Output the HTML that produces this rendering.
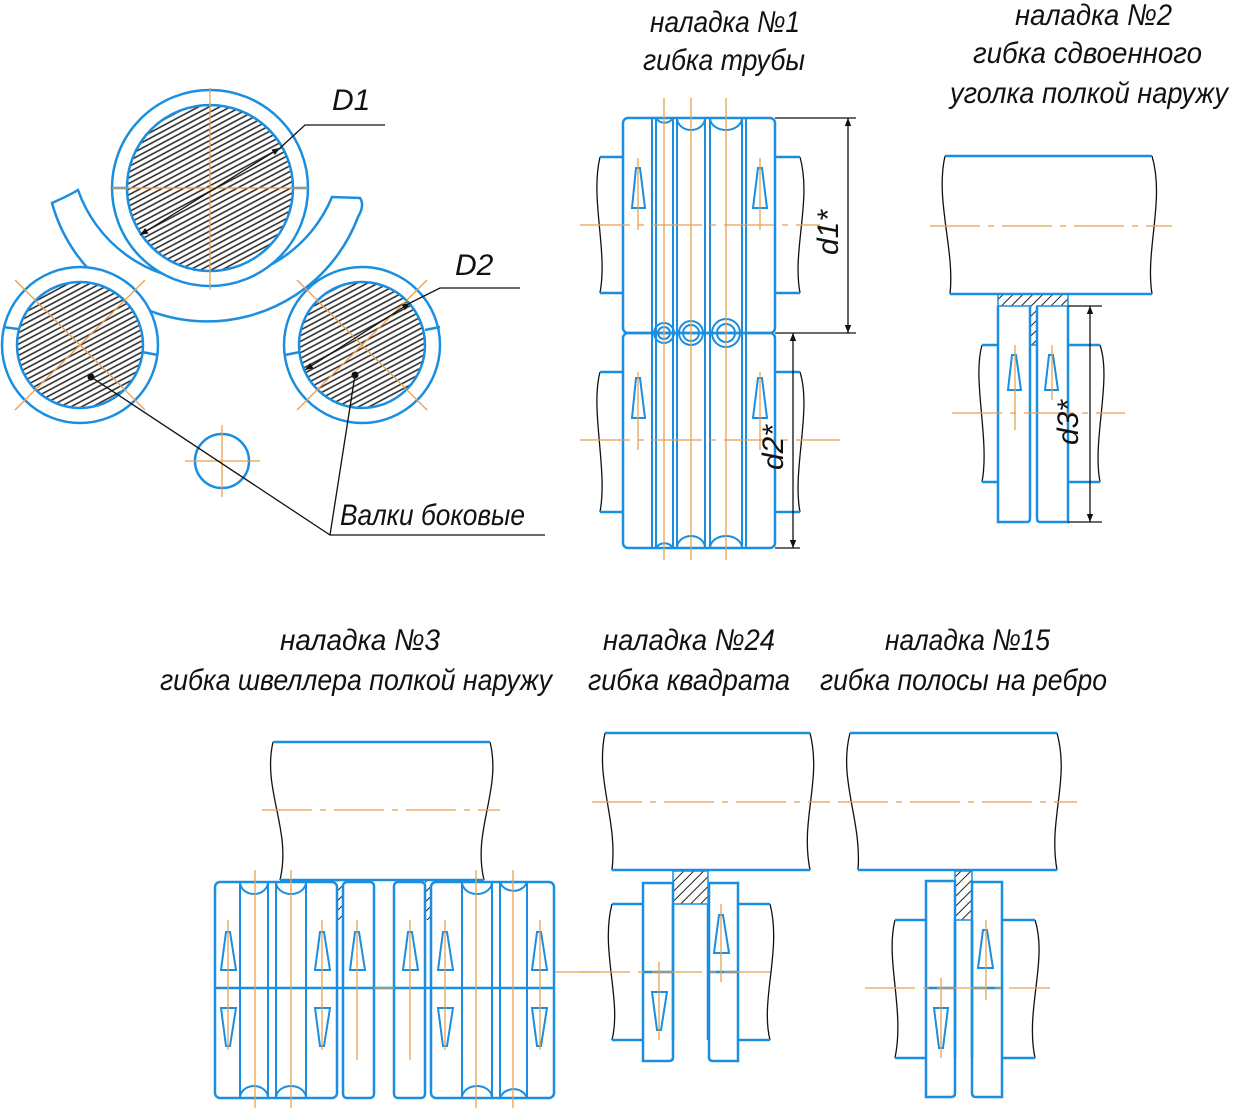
<!DOCTYPE html>
<html><head><meta charset="utf-8"><style>
html,body{margin:0;padding:0;background:#fff;}
svg{display:block}
text{font-family:"Liberation Sans Narrow","Liberation Sans",sans-serif;font-style:italic;fill:#111;font-size:30px}
</style></head><body>
<svg width="1242" height="1110" viewBox="0 0 1242 1110" xmlns="http://www.w3.org/2000/svg">
<defs>
<pattern id="h" width="5" height="5" patternUnits="userSpaceOnUse" patternTransform="rotate(-28)">
<line x1="0" y1="2.5" x2="5" y2="2.5" stroke="#222" stroke-width="1.5"/></pattern>
<pattern id="h2" width="7" height="7" patternUnits="userSpaceOnUse" patternTransform="rotate(45)">
<line x1="0" y1="0" x2="0" y2="7" stroke="#222" stroke-width="2"/></pattern>
<marker id="ar" viewBox="0 0 10 10" refX="10" refY="5" markerWidth="14" markerHeight="8" orient="auto-start-reverse" markerUnits="userSpaceOnUse"><path d="M0,1 L10,5 L0,9Z" fill="#111"/></marker>
</defs>

<!-- ===== Left: rolls ===== -->
<g fill="none" stroke-width="2.5" stroke="#1a8ee0">
<path d="M52,203 A161,161 0 0 0 358,217 Q365,205 360,198 L332,197 A136,136 0 0 1 78,190 Q70,195 52,203Z" fill="#fff"/>
<circle cx="210" cy="188" r="98" fill="#fff"/>
<circle cx="80" cy="345" r="78" fill="#fff"/>
<circle cx="362" cy="345" r="78" fill="#fff"/>
</g>
<g stroke="#1a8ee0" stroke-width="2.5">
<circle cx="210" cy="188" r="83" fill="url(#h)"/>
<circle cx="80" cy="345" r="63" fill="url(#h)"/>
<circle cx="362" cy="345" r="63" fill="url(#h)"/>
<line x1="112" y1="188" x2="127" y2="188"/><line x1="293" y1="188" x2="308" y2="188"/>
<line x1="3" y1="327" x2="18" y2="329"/><line x1="142" y1="352" x2="158" y2="355"/>
<line x1="285" y1="355" x2="300" y2="352"/><line x1="425" y1="330" x2="440" y2="327"/>
<circle cx="222" cy="461" r="27" fill="none"/>
</g>
<g stroke="#e8a050" stroke-width="1.3" fill="none">
<line x1="210" y1="88" x2="210" y2="290"/><line x1="112" y1="188" x2="308" y2="188"/>
<line x1="15" y1="280" x2="145" y2="410"/><line x1="15" y1="410" x2="145" y2="280"/>
<line x1="297" y1="280" x2="427" y2="410"/><line x1="297" y1="410" x2="427" y2="280"/>
<line x1="222" y1="425" x2="222" y2="497"/><line x1="185" y1="461" x2="260" y2="461"/>
</g>
<g stroke="#111" stroke-width="1.3" fill="none">
<line x1="140" y1="235" x2="280" y2="148" marker-start="url(#ar)" marker-end="url(#ar)"/>
<polyline points="280,148 305,125 385,125"/>
<line x1="305" y1="370" x2="410" y2="303" marker-start="url(#ar)" marker-end="url(#ar)"/>
<polyline points="410,303 440,288 520,288"/>
<polyline points="91,377 330,535 545,535"/>
<line x1="355" y1="375" x2="330" y2="535"/>
</g>
<circle cx="91" cy="377" r="3.5" fill="#111"/><circle cx="355" cy="375" r="3.5" fill="#111"/>
<text x="332" y="110" font-size="30">D1</text>
<text x="455" y="275" font-size="30">D2</text>
<text x="340" y="525" font-size="30" textLength="185" lengthAdjust="spacingAndGlyphs">Валки боковые</text>

<!-- ===== Setup 1 ===== -->
<text x="650" y="32" textLength="150" lengthAdjust="spacingAndGlyphs">наладка №1</text>
<text x="643" y="70" textLength="162" lengthAdjust="spacingAndGlyphs">гибка трубы</text>
<g fill="none" stroke="#111" stroke-width="1.3">
<path d="M600,157 C590,200 608,250 600,293"/><path d="M800,157 C812,200 792,250 800,293"/>
<path d="M600,372 C590,410 608,470 600,512"/><path d="M800,372 C812,410 792,470 800,512"/>
</g>
<g fill="none" stroke="#1a8ee0" stroke-width="2.5">
<polyline points="600,157 623,157"/><polyline points="600,293 623,293"/>
<polyline points="775,157 800,157"/><polyline points="775,293 800,293"/>
<polyline points="600,372 623,372"/><polyline points="600,512 623,512"/>
<polyline points="775,372 800,372"/><polyline points="775,512 800,512"/>
<rect x="623" y="118" width="152" height="215" rx="5"/>
<rect x="623" y="333" width="152" height="215" rx="5"/>
<g stroke-width="2">
<line x1="652" y1="118" x2="652" y2="548"/><line x1="656" y1="118" x2="656" y2="548"/>
<line x1="673" y1="118" x2="673" y2="548"/><line x1="677" y1="118" x2="677" y2="548"/>
<line x1="705" y1="118" x2="705" y2="548"/><line x1="710" y1="118" x2="710" y2="548"/>
<line x1="742" y1="118" x2="742" y2="548"/><line x1="746" y1="118" x2="746" y2="548"/>
<path d="M656,118 A10,10 0 0 0 673,118 M677,118 A14,12 0 0 0 705,118 M710,118 A16,12 0 0 0 742,118"/>
<path d="M656,548 A10,10 0 0 1 673,548 M677,548 A14,12 0 0 1 705,548 M710,548 A16,12 0 0 1 742,548"/>
<circle cx="664" cy="333" r="10"/><circle cx="664" cy="333" r="6"/>
<circle cx="691" cy="333" r="12"/><circle cx="691" cy="333" r="8"/>
<circle cx="726" cy="333" r="14"/><circle cx="726" cy="333" r="9"/>
<path d="M632,208 L636,168 L640,168 L645,208Z M753,208 L758,168 L762,168 L767,208Z"/>
<path d="M632,418 L636,378 L640,378 L645,418Z M753,418 L758,378 L762,378 L767,418Z"/>
</g></g>
<g stroke="#e8a050" stroke-width="1.3">
<line x1="664" y1="98" x2="664" y2="560"/><line x1="691" y1="98" x2="691" y2="560"/><line x1="726" y1="98" x2="726" y2="560"/>
<line x1="638" y1="158" x2="638" y2="230"/><line x1="760" y1="158" x2="760" y2="230"/>
<line x1="638" y1="372" x2="638" y2="450"/><line x1="760" y1="372" x2="760" y2="450"/>
<line x1="580" y1="225" x2="820" y2="225" stroke-dasharray="50,8,6,8"/>
<line x1="580" y1="440" x2="840" y2="440" stroke-dasharray="50,8,6,8"/>
</g>
<g stroke="#111" stroke-width="1.3" fill="none">
<line x1="775" y1="118" x2="856" y2="118"/><line x1="775" y1="333" x2="856" y2="333"/>
<line x1="848" y1="118" x2="848" y2="333" marker-start="url(#ar)" marker-end="url(#ar)"/>
<line x1="775" y1="548" x2="800" y2="548"/>
<line x1="793" y1="333" x2="793" y2="548" marker-start="url(#ar)" marker-end="url(#ar)"/>
</g>
<text transform="translate(838,255) rotate(-90)" font-size="30">d1*</text>
<text transform="translate(783,470) rotate(-90)" font-size="30">d2*</text>

<!-- ===== Setup 2 ===== -->
<text x="1015" y="25" textLength="157" lengthAdjust="spacingAndGlyphs">наладка №2</text>
<text x="973" y="63" textLength="229" lengthAdjust="spacingAndGlyphs">гибка сдвоенного</text>
<text x="950" y="103" textLength="278" lengthAdjust="spacingAndGlyphs">уголка полкой наружу</text>
<g fill="none" stroke="#111" stroke-width="1.3">
<path d="M945,156 C935,200 955,250 950,294"/><path d="M1152,156 C1165,200 1145,250 1152,294"/>
<path d="M982,345 C972,380 990,440 982,482"/><path d="M1100,345 C1112,380 1092,440 1100,482"/>
</g>
<path d="M998,294 L1068,294 L1068,306 L1037,306 L1037,345 L1030,345 L1030,306 L998,306Z" fill="url(#h2)" stroke="#1a8ee0" stroke-width="1.5"/>
<g fill="none" stroke="#1a8ee0" stroke-width="2.5">
<line x1="945" y1="156" x2="1152" y2="156"/><line x1="950" y1="294" x2="1152" y2="294"/>
<line x1="982" y1="345" x2="998" y2="345"/><line x1="982" y1="482" x2="998" y2="482"/>
<line x1="1068" y1="345" x2="1100" y2="345"/><line x1="1068" y1="482" x2="1100" y2="482"/>
<path d="M998,306 L998,522 L1027,522 Q1030,522 1030,518 L1030,306"/>
<path d="M1037,306 L1037,518 Q1037,522 1040,522 L1068,522 L1068,306"/>
<path d="M1008,390 L1012,355 L1016,355 L1021,390Z M1045,390 L1049,355 L1053,355 L1058,390Z" stroke-width="2"/>
</g>
<g stroke="#e8a050" stroke-width="1.3">
<line x1="930" y1="226" x2="1172" y2="226" stroke-dasharray="50,8,6,8"/>
<line x1="952" y1="413" x2="1125" y2="413" stroke-dasharray="50,8,6,8"/>
<line x1="1015" y1="345" x2="1015" y2="430"/><line x1="1052" y1="345" x2="1052" y2="400"/>
</g>
<g stroke="#111" stroke-width="1.3" fill="none">
<line x1="1068" y1="306" x2="1102" y2="306"/><line x1="1068" y1="522" x2="1102" y2="522"/>
<line x1="1090" y1="306" x2="1090" y2="522" marker-start="url(#ar)" marker-end="url(#ar)"/>
</g>
<text transform="translate(1078,445) rotate(-90)" font-size="30">d3*</text>

<!-- ===== Setup 3 ===== -->
<text x="280" y="650" textLength="160" lengthAdjust="spacingAndGlyphs">наладка №3</text>
<text x="160" y="690" textLength="392" lengthAdjust="spacingAndGlyphs">гибка швеллера полкой наружу</text>
<g fill="none" stroke="#111" stroke-width="1.3">
<path d="M273,742 C262,790 292,830 280,880"/><path d="M490,742 C502,790 472,830 484,880"/>
</g>
<line x1="273" y1="742" x2="490" y2="742" stroke="#1a8ee0" stroke-width="2.5"/>
<rect x="337" y="880" width="5" height="40" fill="url(#h2)"/><rect x="425" y="880" width="5" height="40" fill="url(#h2)"/>
<g fill="none" stroke="#1a8ee0" stroke-width="2.5">
<line x1="280" y1="880" x2="484" y2="880"/>
<rect x="215" y="882" width="122" height="216" rx="5"/>
<rect x="343" y="882" width="31" height="216" rx="4"/>
<rect x="394" y="882" width="31" height="216" rx="4"/>
<rect x="431" y="882" width="123" height="216" rx="5"/>
<line x1="215" y1="988" x2="554" y2="988"/>
<g stroke-width="2">
<line x1="240" y1="882" x2="240" y2="1098"/><line x1="268" y1="882" x2="268" y2="1098"/>
<line x1="276" y1="882" x2="276" y2="1098"/><line x1="306" y1="882" x2="306" y2="1098"/>
<line x1="462" y1="882" x2="462" y2="1098"/><line x1="492" y1="882" x2="492" y2="1098"/>
<line x1="500" y1="882" x2="500" y2="1098"/><line x1="527" y1="882" x2="527" y2="1098"/>
<path d="M240,882 A14,12 0 0 0 268,882 M276,882 A15,12 0 0 0 306,882 M462,882 A15,12 0 0 0 492,882 M500,882 A14,12 0 0 0 527,882"/>
<path d="M240,1098 A14,12 0 0 1 268,1098 M276,1098 A15,12 0 0 1 306,1098 M462,1098 A15,12 0 0 1 492,1098 M500,1098 A14,12 0 0 1 527,1098"/>
<path d="M221,970 L226,932 L230,932 L236,970Z M315,970 L320,932 L324,932 L330,970Z M350,970 L355,932 L359,932 L365,970Z M403,970 L408,932 L412,932 L418,970Z M438,970 L443,932 L447,932 L453,970Z M532,970 L537,932 L541,932 L547,970Z"/>
<path d="M221,1008 L236,1008 L230,1046 L226,1046Z M315,1008 L330,1008 L324,1046 L320,1046Z M438,1008 L453,1008 L447,1046 L443,1046Z M532,1008 L547,1008 L541,1046 L537,1046Z"/>
</g></g>
<g stroke="#e8a050" stroke-width="1.3">
<line x1="255" y1="870" x2="255" y2="1108"/><line x1="291" y1="870" x2="291" y2="1108"/>
<line x1="476" y1="870" x2="476" y2="1108"/><line x1="513" y1="870" x2="513" y2="1108"/>
<line x1="228" y1="920" x2="228" y2="1050"/><line x1="322" y1="920" x2="322" y2="1050"/>
<line x1="357" y1="920" x2="357" y2="1060"/><line x1="410" y1="920" x2="410" y2="1060"/>
<line x1="445" y1="920" x2="445" y2="1050"/><line x1="540" y1="920" x2="540" y2="1050"/>
<line x1="262" y1="810" x2="500" y2="810" stroke-dasharray="50,8,6,8"/>
<line x1="374" y1="988" x2="394" y2="988"/>
<line x1="555" y1="972" x2="600" y2="972"/>
</g>

<!-- ===== Setup 24 ===== -->
<text x="603" y="650" textLength="172" lengthAdjust="spacingAndGlyphs">наладка №24</text>
<text x="588" y="690" textLength="202" lengthAdjust="spacingAndGlyphs">гибка квадрата</text>
<g fill="none" stroke="#111" stroke-width="1.3">
<path d="M605,733 C595,780 618,820 612,870"/><path d="M810,733 C822,780 800,820 810,870"/>
<path d="M612,904 C600,950 622,1000 612,1040"/><path d="M770,904 C782,950 760,1000 770,1040"/>
</g>
<rect x="673" y="871" width="35" height="33" fill="url(#h2)" stroke="#1a8ee0" stroke-width="1.5"/>
<g fill="none" stroke="#1a8ee0" stroke-width="2.5">
<line x1="605" y1="733" x2="810" y2="733"/><line x1="612" y1="870" x2="810" y2="870"/>
<line x1="612" y1="904" x2="643" y2="904"/><line x1="612" y1="1040" x2="643" y2="1040"/>
<line x1="738" y1="904" x2="770" y2="904"/><line x1="738" y1="1040" x2="770" y2="1040"/>
<line x1="673" y1="904" x2="673" y2="1040"/><line x1="708" y1="904" x2="708" y2="1040"/>
<path d="M643,883 L673,883 L673,1057 Q673,1061 669,1061 L643,1061Z"/>
<path d="M709,883 L738,883 L738,1061 L713,1061 Q709,1061 709,1057Z"/>
<line x1="643" y1="972" x2="673" y2="972"/><line x1="709" y1="972" x2="738" y2="972"/>
<path d="M652,992 L667,992 L661,1030 L657,1030Z M714,953 L719,915 L723,915 L729,953Z" stroke-width="2"/>
</g>
<g stroke="#e8a050" stroke-width="1.3">
<line x1="592" y1="802" x2="830" y2="802" stroke-dasharray="50,8,6,8"/>
<line x1="580" y1="972" x2="770" y2="972" stroke-dasharray="50,8,6,8"/>
<line x1="659" y1="962" x2="659" y2="1040"/><line x1="721" y1="904" x2="721" y2="982"/>
</g>

<!-- ===== Setup 15 ===== -->
<text x="885" y="650" textLength="165" lengthAdjust="spacingAndGlyphs">наладка №15</text>
<text x="820" y="690" textLength="287" lengthAdjust="spacingAndGlyphs">гибка полосы на ребро</text>
<g fill="none" stroke="#111" stroke-width="1.3">
<path d="M850,733 C838,780 862,820 858,870"/><path d="M1057,733 C1070,780 1048,820 1057,870"/>
<path d="M895,920 C885,960 905,1010 895,1058"/><path d="M1035,920 C1048,960 1025,1010 1035,1058"/>
</g>
<rect x="955" y="871" width="17" height="49" fill="url(#h2)" stroke="#1a8ee0" stroke-width="1.5"/>
<g fill="none" stroke="#1a8ee0" stroke-width="2.5">
<line x1="850" y1="733" x2="1057" y2="733"/><line x1="858" y1="870" x2="1057" y2="870"/>
<line x1="895" y1="920" x2="926" y2="920"/><line x1="895" y1="1058" x2="926" y2="1058"/>
<line x1="1002" y1="920" x2="1035" y2="920"/><line x1="1002" y1="1058" x2="1035" y2="1058"/>
<line x1="955" y1="920" x2="955" y2="1058"/><line x1="972" y1="920" x2="972" y2="1058"/>
<path d="M926,881 L955,881 L955,1093 Q955,1097 951,1097 L926,1097Z"/>
<path d="M972,882 L1002,882 L1002,1097 L976,1097 Q972,1097 972,1093Z"/>
<line x1="926" y1="988" x2="955" y2="988"/><line x1="972" y1="988" x2="1002" y2="988"/>
<path d="M934,1008 L948,1008 L943,1048 L939,1048Z M978,968 L983,930 L987,930 L993,968Z" stroke-width="2"/>
</g>
<g stroke="#e8a050" stroke-width="1.3">
<line x1="838" y1="802" x2="1077" y2="802" stroke-dasharray="50,8,6,8"/>
<line x1="865" y1="988" x2="1050" y2="988" stroke-dasharray="50,8,6,8"/>
<line x1="941" y1="978" x2="941" y2="1058"/><line x1="986" y1="920" x2="986" y2="1000"/>
</g>
</svg>
</body></html>
